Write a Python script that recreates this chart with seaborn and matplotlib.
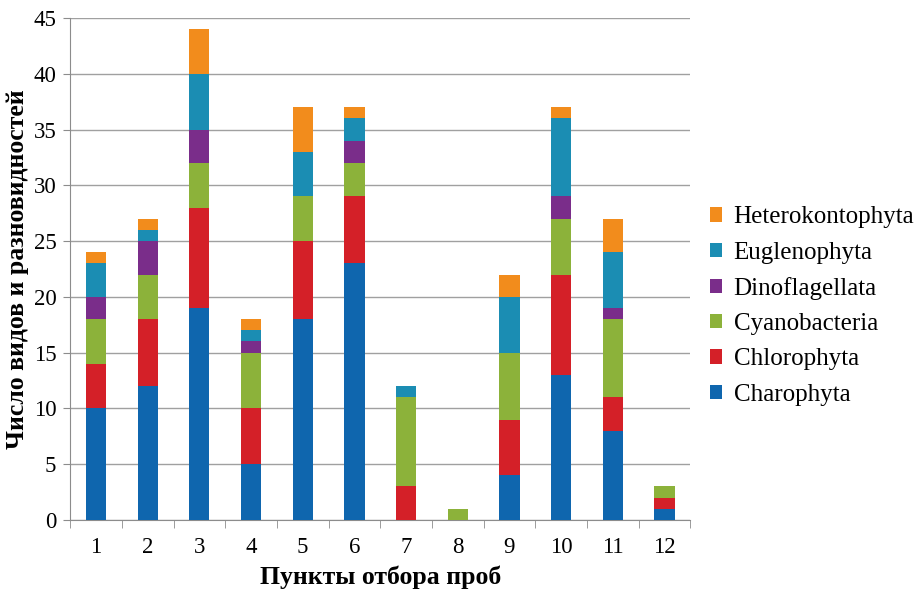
import matplotlib
matplotlib.use('Agg')
import matplotlib.pyplot as plt
import numpy as np
import pandas as pd
import seaborn as sns

# data
sites = ['1', '2', '3', '4', '5', '6', '7', '8', '9', '10', '11', '12']
groups = ['Charophyta', 'Chlorophyta', 'Cyanobacteria', 'Dinoflagellata',
          'Euglenophyta', 'Heterokontophyta']
charophyta = [10, 12, 19, 5, 18, 23, 0, 0, 4, 13, 8, 1]
chlorophyta = [4, 6, 9, 5, 7, 6, 3, 0, 5, 9, 3, 1]
cyanobacteria = [4, 4, 4, 5, 4, 3, 8, 1, 6, 5, 7, 1]
dinoflagellata = [2, 3, 3, 1, 0, 2, 0, 0, 0, 2, 1, 0]
euglenophyta = [3, 1, 5, 1, 4, 2, 1, 0, 5, 7, 5, 0]
heterokontophyta = [1, 1, 4, 1, 4, 1, 0, 0, 2, 1, 3, 0]
colors = ['#0f66ae', '#d42028', '#8cb23a', '#7a2d8a', '#1b8db3', '#f28c1c']

series = [charophyta, chlorophyta, cyanobacteria, dinoflagellata,
          euglenophyta, heterokontophyta]
cum = np.cumsum(np.array(series), axis=0)

plt.rcParams['font.family'] = ['Liberation Serif', 'DejaVu Serif']

fig = plt.figure(figsize=(9.23, 5.99), dpi=100)
ax = fig.add_axes([0.076, 0.132, 0.672, 0.838])

# stacked bars: draw cumulative totals from the top layer down
for i in range(len(groups) - 1, -1, -1):
    df = pd.DataFrame({'site': sites, 'value': cum[i]})
    sns.barplot(data=df, x='site', y='value', order=sites, color=colors[i],
                saturation=1, width=0.39, label=groups[i], ax=ax, zorder=3)

ax.set_ylim(0, 45)
ax.set_yticks(range(0, 46, 5))
ax.set_xlim(-0.5, 11.5)
ax.grid(axis='y', color='#a0a0a0', linewidth=1, zorder=0)
ax.set_axisbelow(True)
for s in ['top', 'right']:
    ax.spines[s].set_visible(False)
for s in ['left', 'bottom']:
    ax.spines[s].set_color('#8c8c8c')
ax.tick_params(axis='y', labelsize=16.5, length=5, color='#8c8c8c', pad=5)
ax.tick_params(axis='x', labelsize=16.5, length=0, pad=12)
# excel-style tick marks between categories
ax.set_xticks(np.arange(-0.5, 12, 1), minor=True)
ax.tick_params(axis='x', which='minor', length=6, color='#8c8c8c')

ax.set_xlabel('Пункты отбора проб', fontsize=18.5, fontweight='bold', labelpad=6)
ax.set_ylabel('Число видов и разновидностей', fontsize=18.5, fontweight='bold', labelpad=3)

ax.legend(loc='center left', bbox_to_anchor=(0.995, 0.426), frameon=False,
          fontsize=18, handlelength=0.5, handleheight=0.5, handletextpad=0.45,
          labelspacing=0.53)

fig.savefig('out.png', dpi=100)
